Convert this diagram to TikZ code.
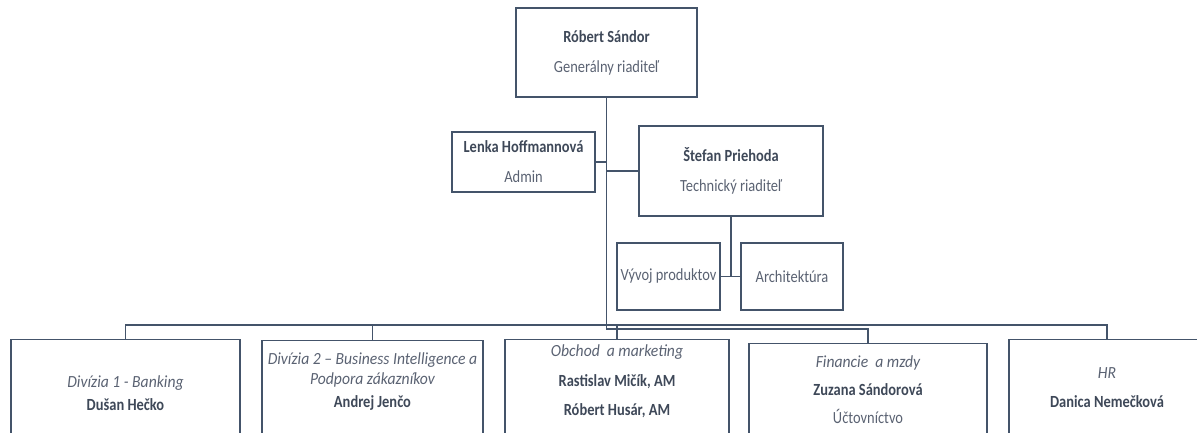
\documentclass[tikz,border=0pt]{standalone}
\usepackage{fontspec}
\setmainfont{Carlito}[FakeStretch=0.85]
\newfontfamily\divfont{Carlito}[FakeStretch=0.92]
\usetikzlibrary{positioning}
\definecolor{linegray}{HTML}{44546A}
\definecolor{namegray}{HTML}{3E4858}
\definecolor{rolegray}{HTML}{5A6272}

\begin{document}
\begin{tikzpicture}[x=1pt,y=-1pt]
		\tikzstyle{orgbox}=[draw=linegray,line width=1.4pt,inner sep=0pt,align=center,text=rolegray,font=\fontsize{17}{30}\selectfont]
		\tikzstyle{orgline}=[draw=linegray,line width=1.4pt]
		\tikzstyle{orgtext}=[inner sep=0pt,align=center,text=rolegray]
		\def\nm#1{\textcolor{namegray}{\bfseries #1}}
		\def\dv#1{{\divfont\itshape #1}}

		\useasboundingbox (0,0) rectangle (1197,432);
		\clip (0,0) rectangle (1197,432);

		%top
		\node[orgbox,minimum width=181pt,minimum height=89pt] (gen) at (606.5,52.5) {\nm{Róbert Sándor}\\Generálny riaditeľ};
		%staff
		\node[orgbox,minimum width=143pt,minimum height=60pt] (lenka) at (523.5,162) {\nm{Lenka Hoffmannová}\\Admin};
		\node[orgbox,minimum width=184pt,minimum height=90pt] (stefan) at (731,171) {\nm{Štefan Priehoda}\\Technický riaditeľ};
		\node[orgbox,minimum width=103pt,minimum height=67pt] (vyvoj) at (668.5,276.5) {Vývoj produktov};
		\node[orgbox,minimum width=102pt,minimum height=67pt] (arch) at (792,276.5) {Architektúra};

		%divisions
		\node[orgbox,anchor=north,minimum width=229pt,minimum height=130pt] (div1) at (125.5,339) {};
		\node[orgbox,anchor=north,minimum width=221pt,minimum height=130pt] (div2) at (372.5,340) {};
		\node[orgbox,anchor=north,minimum width=224pt,minimum height=130pt] (obchod) at (617,339) {};
		\node[orgbox,anchor=north,minimum width=238pt,minimum height=130pt] (fin) at (868,343) {};
		\node[orgbox,anchor=north,minimum width=196pt,minimum height=130pt] (hr) at (1107,339) {};

		%texts
		\node[orgtext,font=\fontsize{17}{23}\selectfont] (div1txt) at (125.5,393.5) {\dv{Divízia 1 - Banking}\\\nm{Dušan Hečko}};
		\node[orgtext,font=\fontsize{17}{20}\selectfont] (div2txt) at (372.5,381.5) {\dv{Divízia 2 – Business Intelligence a}\\\dv{Podpora zákazníkov}\\[3pt]\nm{Andrej Jenčo}};
		\node[orgtext,font=\fontsize{17}{29.5}\selectfont] (obchodtxt) at (617,381.5) {\dv{Obchod~ a marketing}\\\nm{Rastislav Mičík, AM}\\\nm{Róbert Husár, AM}};
		\node[orgtext,font=\fontsize{17}{28}\selectfont] (fintxt) at (868,390) {\dv{Financie~ a mzdy}\\\nm{Zuzana Sándorová}\\Účtovníctvo};
		\node[orgtext,font=\fontsize{17}{29}\selectfont] (hrtxt) at (1107,387.5) {\dv{HR}\\\nm{Danica Nemečková}};

		%bus
		\coordinate (busA) at (0,325);
		\coordinate (busB) at (0,329);

		%lines
		\draw[orgline] (gen.south) -- (gen.south |- busB) -| (fin.north);
		\draw[orgline] (lenka.east) -- (lenka.east -| gen.south);
		\draw[orgline] (gen.south |- stefan.west) -- (stefan.west);
		\draw[orgline] (stefan.south) -- (stefan.south |- vyvoj.east);
		\draw[orgline] (vyvoj.east) -- (arch.west);
		\draw[orgline] (div1.north) -- (div1.north |- busA) -- (hr.north |- busA) -- (hr.north);
		\draw[orgline] (div2.north) -- (div2.north |- busA);
		\draw[orgline] (obchod.north) -- (obchod.north |- busA);
	\end{tikzpicture}
\end{document}
